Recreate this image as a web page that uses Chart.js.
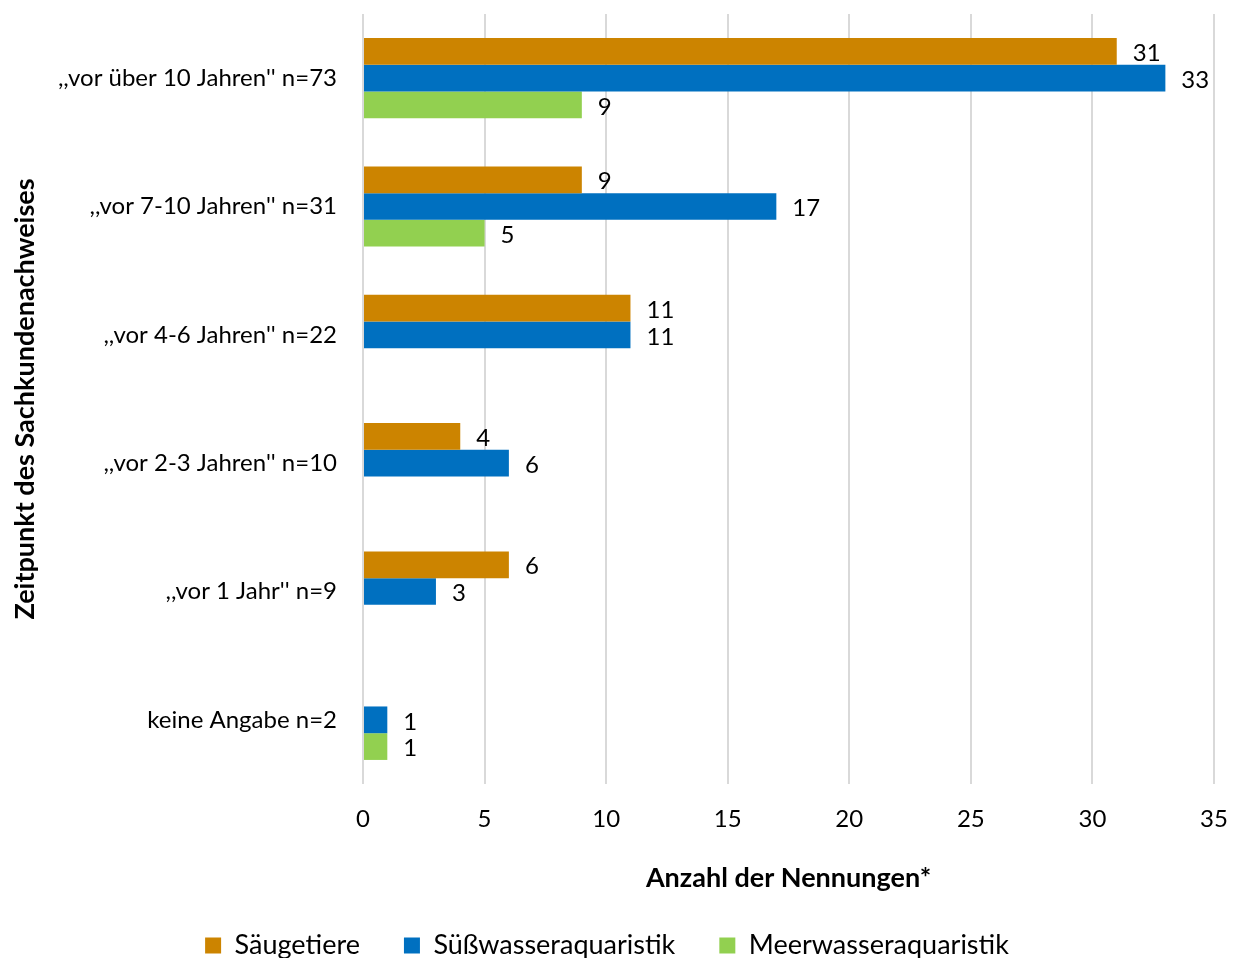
<!DOCTYPE html>
<html>
<head>
<meta charset="utf-8">
<script src="https://cdn.jsdelivr.net/npm/chart.js@4/dist/chart.umd.min.js"></script>
<style>
  html, body { margin: 0; padding: 0; background: #ffffff; }
  #wrap { width: 1238px; height: 958px; }
</style>
</head>
<body>
<div id="wrap"><canvas id="chart"></canvas></div>
<script>
// Daten
const kategorien = [
    ",,vor über 10 Jahren'' n=73",
    ",,vor 7-10 Jahren'' n=31",
    ",,vor 4-6 Jahren'' n=22",
    ",,vor 2-3 Jahren'' n=10",
    ",,vor 1 Jahr'' n=9",
    "keine Angabe n=2"
];
const saeugetiere = [31, 9, 11, 4, 6, null];
const suesswasser = [33, 17, 11, 6, 3, 1];
const meerwasser = [9, 5, null, null, null, 1];
const xTicks = [0, 5, 10, 15, 20, 25, 30, 35];

const FONT = "Lato, 'Open Sans', sans-serif";

// Wertebeschriftung rechts neben den Balken
const valueLabels = {
    id: 'valueLabels',
    afterDatasetsDraw(chart) {
        const ctx = chart.ctx;
        ctx.save();
        ctx.font = '24px ' + FONT;
        ctx.fillStyle = '#000000';
        ctx.textAlign = 'left';
        ctx.textBaseline = 'middle';
        chart.data.datasets.forEach((ds, i) => {
            const meta = chart.getDatasetMeta(i);
            meta.data.forEach((bar, j) => {
                const v = ds.data[j];
                if (v === null || v === undefined) return;
                ctx.fillText(String(v), bar.x + 16, bar.y + 2);
            });
        });
        ctx.restore();
    }
};

new Chart(document.getElementById('chart'), {
    type: 'bar',
    data: {
        labels: kategorien,
        datasets: [
            { label: 'Säugetiere', data: saeugetiere, backgroundColor: '#CC8400', borderWidth: 0 },
            { label: 'Süßwasseraquaristik', data: suesswasser, backgroundColor: '#0070C0', borderWidth: 0 },
            { label: 'Meerwasseraquaristik', data: meerwasser, backgroundColor: '#92D050', borderWidth: 0 }
        ]
    },
    options: {
        indexAxis: 'y',
        responsive: true,
        maintainAspectRatio: false,
        animation: false,
        categoryPercentage: 0.625,
        barPercentage: 1.0,
        layout: { padding: { top: 14, right: 24, left: 0, bottom: -11 } },
        scales: {
            x: {
                min: 0,
                max: 35,
                afterBuildTicks: scale => { scale.ticks = xTicks.map(v => ({ value: v })); },
                afterFit: scale => {
                    scale.height = 104;
                    scale.paddingLeft = 0;
                    scale.paddingRight = 0;
                },
                grid: { color: '#d9d9d9', lineWidth: 2, drawTicks: false },
                border: { display: false },
                ticks: { padding: 21, color: '#000000', font: { family: FONT, size: 24 } },
                title: {
                    display: true,
                    text: 'Anzahl der Nennungen*',
                    color: '#000000',
                    font: { family: FONT, size: 27, weight: 'bold' },
                    padding: { top: 0, bottom: -6 }
                }
            },
            y: {
                afterFit: scale => {
                    scale.width = 363;
                    scale.paddingTop = 0;
                    scale.paddingBottom = 0;
                },
                grid: { display: false, drawTicks: false },
                border: { display: false },
                ticks: { padding: 26, color: '#000000', font: { family: FONT, size: 24 } },
                title: {
                    display: true,
                    text: 'Zeitpunkt des Sachkundenachweises',
                    color: '#000000',
                    font: { family: FONT, size: 27, weight: 'bold' },
                    padding: { top: 9, bottom: 0 }
                }
            }
        },
        plugins: {
            legend: {
                position: 'bottom',
                labels: {
                    boxWidth: 16,
                    boxHeight: 16,
                    padding: 44,
                    color: '#000000',
                    font: { family: FONT, size: 27 }
                }
            },
            tooltip: { enabled: false }
        }
    },
    plugins: [valueLabels]
});
</script>
</body>
</html>
